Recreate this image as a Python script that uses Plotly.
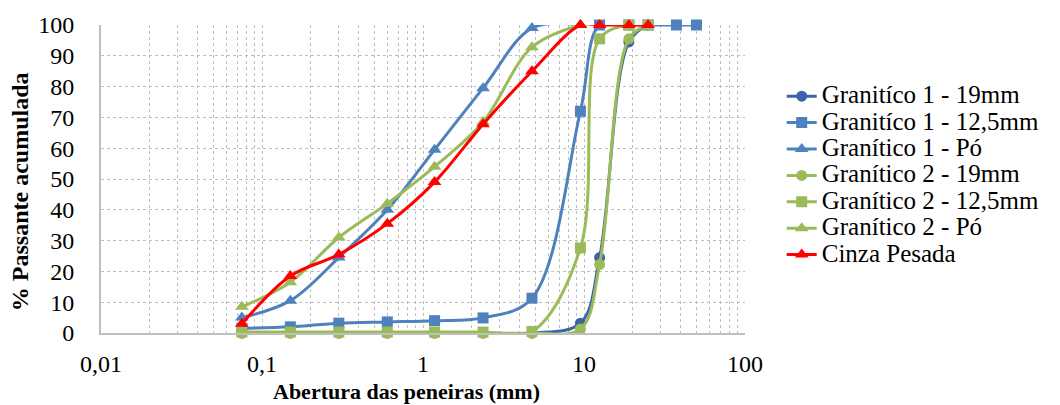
import plotly.graph_objects as go

sieves = [0.075, 0.15, 0.3, 0.6, 1.18, 2.36, 4.75, 9.5, 12.5, 19, 25, 37.5, 50]

g1_19 = [0, 0, 0, 0, 0, 0, 0, 3.2, 24.5, 94.5, 100]
g1_125 = [1.5, 2.0, 3.2, 3.6, 4.0, 4.9, 11.3, 72, 100, 100, 100, 100, 100]
g1_po = [5, 10.5, 24.5, 40, 59.5, 79.5, 99, 100]
g2_19 = [0, 0, 0, 0, 0, 0, 0, 1.3, 22.2, 95.5, 100]
g2_125 = [0.3, 0.3, 0.3, 0.3, 0.3, 0.3, 0.5, 27.6, 95.5, 100, 100]
g2_po = [8.5, 16.5, 31, 42, 54, 68.5, 92.8, 100]
cinza = [3, 18.5, 25.5, 35.5, 49, 67.8, 85, 100, 100, 100, 100]

names = ["Granitíco 1 - 19mm", "Granitíco 1 - 12,5mm", "Granítico 1 - Pó",
         "Granítico 2 - 19mm", "Granítico 2 - 12,5mm", "Granítico 2 - Pó",
         "Cinza Pesada"]
series = [g1_19, g1_125, g1_po, g2_19, g2_125, g2_po, cinza]
colors = ["#3D62AC", "#4F81BD", "#4F81BD", "#9BBB59", "#9BBB59", "#9BBB59", "#FF0000"]
symbols = ["circle", "square", "triangle-up", "circle", "square", "triangle-up", "triangle-up"]

x_ticks = [0.01, 0.1, 1, 10, 100]
x_ticktext = ["0,01", "0,1", "1", "10", "100"]
y_ticks = list(range(0, 101, 10))

FONT = "Liberation Serif"

fig = go.Figure()
for name, ys, col, sym in zip(names, series, colors, symbols):
    fig.add_trace(go.Scatter(
        x=sieves[:len(ys)], y=ys, name='<span style="font-size:25px">' + name + '</span>',
        mode="lines+markers",
        line=dict(color=col, width=3, shape="spline", smoothing=1),
        marker=dict(color=col, symbol=sym, size=11 if sym != "triangle-up" else 12),
        cliponaxis=False,
    ))

minor_vals = [m * 10 ** e for e in range(-2, 2) for m in range(2, 10)]

fig.update_layout(
    width=1060, height=405,
    margin=dict(l=101, r=315, t=25, b=72),
    paper_bgcolor="white", plot_bgcolor="white",
    font=dict(family=FONT, size=24, color="black"),
    showlegend=True,
    legend=dict(x=1.057, xanchor="left", y=0.828, yanchor="top",
                font=dict(family=FONT, size=18, color="black"),
                bgcolor="rgba(0,0,0,0)", tracegroupgap=0),
    xaxis=dict(type="log", range=[-2, 2], tickvals=x_ticks, ticktext=x_ticktext,
               showgrid=True, gridcolor="#BFBFBF", griddash="dot", gridwidth=1,
               minor=dict(tickvals=minor_vals, showgrid=True, gridcolor="#BFBFBF",
                          griddash="dot", gridwidth=1, ticks=""),
               showline=True, linecolor="#BFBFBF", linewidth=2,
               ticks="outside", ticklen=8, tickcolor="rgba(0,0,0,0)",
               tickfont=dict(family=FONT, size=24), zeroline=False),
    yaxis=dict(range=[0, 100], tickvals=y_ticks,
               showgrid=True, gridcolor="#BFBFBF", griddash="dot", gridwidth=1,
               showline=True, linecolor="#BFBFBF", linewidth=2,
               ticks="outside", ticklen=20, tickcolor="rgba(0,0,0,0)",
               tickfont=dict(family=FONT, size=24), zeroline=False),
    annotations=[
        dict(text="<b>Abertura das peneiras (mm)</b>", xref="paper", yref="paper",
             x=0.475, y=-0.19, xanchor="center", yanchor="middle", showarrow=False,
             font=dict(family=FONT, size=22, color="black")),
        dict(text="<b>% Passante acumulada</b>", xref="paper", yref="paper",
             x=-0.126, y=0.46, xanchor="center", yanchor="middle", showarrow=False,
             textangle=-90, font=dict(family=FONT, size=24, color="black")),
    ],
)

fig.write_html("out.html")
